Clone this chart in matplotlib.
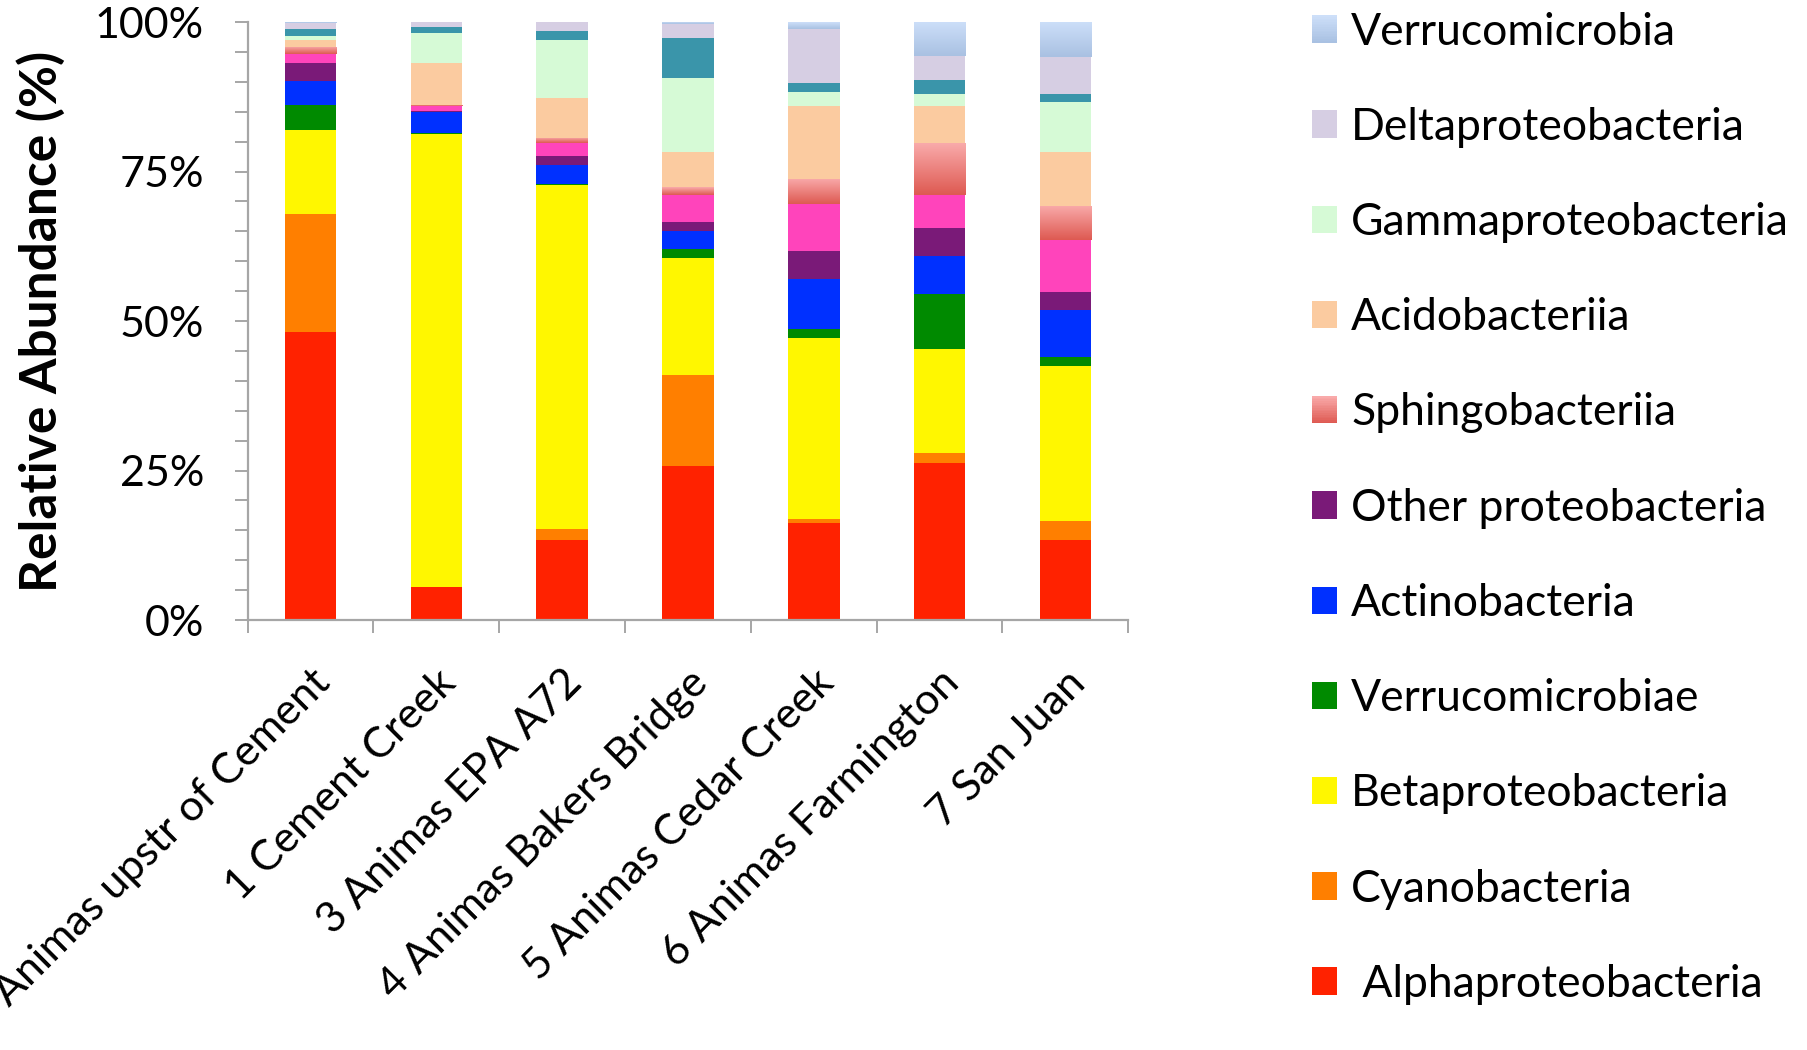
import numpy as np
import matplotlib.pyplot as plt
from matplotlib.colors import LinearSegmentedColormap
from matplotlib.legend_handler import HandlerBase
from matplotlib.patches import Patch, Rectangle
from matplotlib.ticker import MultipleLocator, PercentFormatter, FixedLocator

plt.rcParams['font.family'] = ['Lato', 'DejaVu Sans']

sites = ['2 Animas upstr of Cement', '1 Cement Creek', '3 Animas EPA A72',
         '4 Animas Bakers Bridge', '5 Animas Cedar Creek',
         '6 Animas Farmington', '7 San Juan']

# relative abundance (%) per class, stacked bottom -> top
alpha = [48.2, 5.5, 13.4, 25.7, 16.3, 26.3, 13.4]
cyano = [19.7, 0.0, 1.8, 15.2, 0.6, 1.6, 3.1]
beta = [14.0, 75.8, 57.5, 19.7, 30.2, 17.5, 26.0]
verrucomicrobiae = [4.2, 0.2, 0.3, 1.4, 1.5, 9.2, 1.5]
actino = [4.1, 3.5, 3.1, 3.1, 8.5, 6.3, 7.8]
other_proteo = [3.0, 0.2, 1.5, 1.5, 4.6, 4.6, 3.1]
magenta_grp = [1.5, 0.8, 2.1, 4.5, 7.8, 5.6, 8.6]
sphingo = [1.2, 0.2, 0.9, 1.3, 4.2, 8.6, 5.7]
acido = [1.1, 6.9, 6.7, 5.9, 12.3, 6.3, 9.1]
gamma = [0.7, 5.1, 9.7, 12.3, 2.3, 2.0, 8.3]
teal_grp = [1.1, 0.9, 1.5, 6.8, 1.5, 2.3, 1.4]
delta = [1.0, 0.9, 1.5, 2.2, 9.1, 4.0, 6.1]
verrucomicrobia = [0.2, 0.0, 0.0, 0.4, 1.1, 5.7, 5.9]

# (values, legend label or None, colour, gradient top colour or None)
layers = [
    (alpha, ' Alphaproteobacteria', '#ff2200', None),
    (cyano, 'Cyanobacteria', '#ff7f00', None),
    (beta, 'Betaproteobacteria', '#fff700', None),
    (verrucomicrobiae, 'Verrucomicrobiae', '#008a00', None),
    (actino, 'Actinobacteria', '#0030ff', None),
    (other_proteo, 'Other proteobacteria', '#7a1a78', None),
    (magenta_grp, None, '#ff44bb', None),
    (sphingo, 'Sphingobacteriia', '#de5a52', '#f9aaaa'),
    (acido, 'Acidobacteriia', '#fbcba0', None),
    (gamma, 'Gammaproteobacteria', '#d6fad6', None),
    (teal_grp, None, '#3a95aa', None),
    (delta, 'Deltaproteobacteria', '#d6cee3', None),
    (verrucomicrobia, 'Verrucomicrobia', '#a9c1e2', '#cddff9'),
]


class GradientSwatch(HandlerBase):
    """Legend key drawn as a stack of thin bands, bottom to top."""

    def __init__(self, cmap, steps=16):
        super().__init__()
        self.cmap = cmap
        self.steps = steps

    def create_artists(self, legend, orig_handle, xdescent, ydescent,
                       width, height, fontsize, trans):
        h = height / self.steps
        return [Rectangle((-xdescent, -ydescent + i * h), width, h * 1.05,
                          facecolor=self.cmap(i / (self.steps - 1)),
                          edgecolor='none', transform=trans)
                for i in range(self.steps)]


fig = plt.figure(figsize=(18.08, 10.5), dpi=100)
ax = fig.add_axes([0.137, 0.4095, 0.487, 0.5695])

x = np.arange(len(sites))
width = 0.41
bottom = np.zeros(len(sites))
handles = []
handler_map = {}
for vals, label, color, top_color in layers:
    vals = np.array(vals, dtype=float)
    bars = ax.bar(x, vals, width, bottom=bottom, color=color, linewidth=0)
    cmap = None
    if top_color is not None:
        # vertical gradient, darker at the bottom of each segment
        cmap = LinearSegmentedColormap.from_list('grad', [color, top_color])
        grad = np.linspace(0, 1, 64).reshape(-1, 1)
        for bar in bars:
            if bar.get_height() <= 0:
                continue
            bar.set_facecolor('none')
            x0, y0 = bar.get_x(), bar.get_y()
            im = ax.imshow(grad, cmap=cmap, origin='lower', aspect='auto',
                           extent=(x0, x0 + bar.get_width(), y0, y0 + bar.get_height()),
                           interpolation='bilinear', zorder=bar.get_zorder())
            im.set_clip_path(bar)
    if label is not None:
        h = Patch(facecolor=color, edgecolor='none', label=label)
        if cmap is not None:
            handler_map[h] = GradientSwatch(cmap)
        handles.append(h)
    bottom += vals

ax.set_xlim(-0.5, len(sites) - 0.5)
ax.set_ylim(0, 100)

axis_gray = '#a6a6a6'
for side in ('top', 'right'):
    ax.spines[side].set_visible(False)
for side in ('left', 'bottom'):
    ax.spines[side].set_color(axis_gray)
    ax.spines[side].set_linewidth(1.6)

ax.yaxis.set_major_locator(MultipleLocator(25))
ax.yaxis.set_minor_locator(MultipleLocator(5))
ax.yaxis.set_major_formatter(PercentFormatter(100, decimals=0))
ax.tick_params(axis='y', which='both', direction='out', length=9.5, width=1.4,
               color=axis_gray, labelsize=31, pad=22)

# category boundary ticks, labels centred under the bars
ax.xaxis.set_major_locator(FixedLocator(np.arange(len(sites) + 1) - 0.5))
ax.set_xticklabels([], minor=False)
ax.set_xticks(x, minor=True)
ax.set_xticklabels(sites, minor=True, rotation=45, ha='right',
                   rotation_mode='anchor', fontsize=31)
ax.tick_params(axis='x', which='major', direction='out', length=9.5, width=1.4,
               color=axis_gray)
ax.tick_params(axis='x', which='minor', length=0, pad=31)

ax.set_ylabel('Relative Abundance (%)', fontsize=37, fontweight='bold', labelpad=21)

fig.legend(handles=handles[::-1], handler_map=handler_map, loc='upper left',
           bbox_to_anchor=(0.7257, 0.989), frameon=False, fontsize=32,
           handlelength=0.57, handleheight=0.57, handletextpad=0.31,
           labelspacing=1.22, borderpad=0, borderaxespad=0)

fig.savefig('out.png', dpi=100)
